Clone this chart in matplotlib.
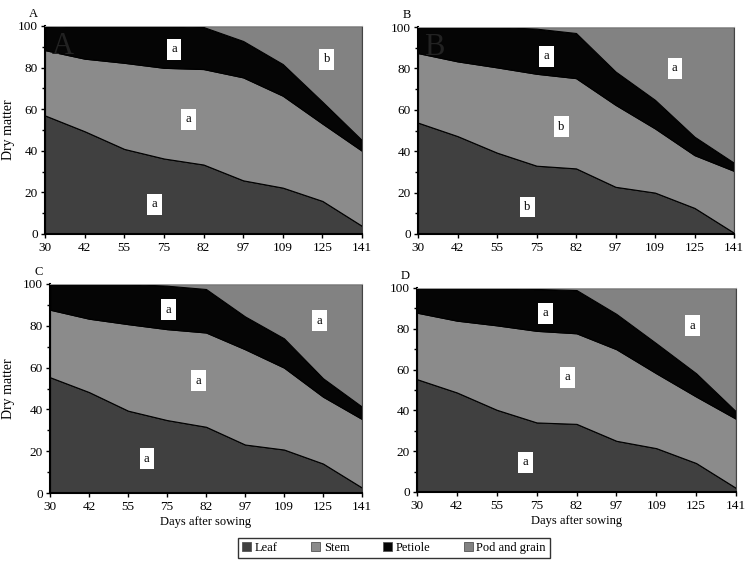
import numpy as np
import matplotlib
matplotlib.use("Agg")
import matplotlib.pyplot as plt
from matplotlib.patches import Patch
from matplotlib.ticker import MultipleLocator

plt.rcParams['font.family'] = ['Liberation Serif', 'DejaVu Serif']

days = ['30', '42', '55', '75', '82', '97', '109', '125', '141']
parts = ['Leaf', 'Stem', 'Petiole', 'Pod and grain']

# per-panel dry matter shares (%), one list per plant part
leaf_A = [57, 49.4, 40.9, 36.3, 33.4, 25.8, 22.3, 15.9, 3.9]
stem_A = [31.4, 34.9, 41.4, 43.6, 45.9, 49.5, 44.2, 37.2, 36.1]
petiole_A = [11.1, 15.7, 17.7, 20.1, 20.2, 17.5, 15.2, 10.5, 5.1]

leaf_B = [53.8, 47.3, 39.3, 33.0, 31.7, 22.8, 20.0, 12.6, 0.6]
stem_B = [33.6, 36.1, 41.2, 44.4, 43.6, 39.6, 31.0, 25.5, 29.9]
petiole_B = [12.6, 16.6, 19.5, 21.8, 21.8, 16.1, 13.8, 8.9, 3.9]

leaf_C = [55.4, 48.3, 39.4, 34.9, 31.7, 23.2, 20.8, 14.1, 2.6]
stem_C = [32.3, 35.1, 41.4, 43.5, 45.1, 45.6, 39.2, 32.0, 32.8]
petiole_C = [12.3, 16.6, 19.2, 20.8, 20.8, 15.7, 14.0, 8.8, 5.9]

leaf_D = [55.3, 48.8, 40.3, 34.1, 33.4, 25.1, 21.5, 14.2, 2.0]
stem_D = [32.6, 35.2, 41.4, 44.9, 44.4, 44.9, 36.7, 32.6, 33.9]
petiole_D = [12.1, 16.0, 18.3, 20.5, 21.2, 17.3, 14.7, 11.4, 3.6]

# significance letters: (x position in category units, y, letter)
letters_A = [(2.76, 14.3, 'a'), (3.62, 55.2, 'a'), (3.26, 88.8, 'a'), (7.11, 84, 'b')]
letters_B = [(2.77, 13, 'b'), (3.63, 51.9, 'b'), (3.25, 85.8, 'a'), (6.5, 80, 'a')]
letters_C = [(2.48, 16.5, 'a'), (3.81, 53.8, 'a'), (3.04, 87.7, 'a'), (6.91, 82.4, 'a')]
letters_D = [(2.72, 14.5, 'a'), (3.77, 56.3, 'a'), (3.22, 87.6, 'a'), (6.91, 81.6, 'a')]

colors = ['#404040', '#8b8b8b', '#050505', '#828282']

W, H = 747, 563
fig = plt.figure(figsize=(W / 100, H / 100), dpi=100)


def px_axes(l, t, r, b):
    return fig.add_axes([l / W, 1 - b / H, (r - l) / W, (b - t) / H])


panels = [
    ('A', (45, 26, 362, 234), leaf_A, stem_A, petiole_A, letters_A, True, False),
    ('B', (418, 27, 734, 234), leaf_B, stem_B, petiole_B, letters_B, False, False),
    ('C', (50, 284, 362, 493), leaf_C, stem_C, petiole_C, letters_C, True, True),
    ('D', (417, 288, 736, 492), leaf_D, stem_D, petiole_D, letters_D, False, True),
]

x = np.arange(len(days))
for name, box, leaf, stem, pet, letters, ylab, xlab in panels:
    ax = px_axes(*box)
    leaf = np.array(leaf)
    stem = np.array(stem)
    pet = np.array(pet)
    pod = 100 - leaf - stem - pet
    ax.stackplot(x, leaf, stem, pet, pod, colors=colors,
                 edgecolor='black', linewidth=0.8)
    ax.set_xlim(0, len(days) - 1)
    ax.set_ylim(0, 100)
    ax.set_xticks(x)
    ax.set_xticklabels(days)
    ax.yaxis.set_major_locator(MultipleLocator(20))
    ax.yaxis.set_minor_locator(MultipleLocator(10))
    ax.tick_params(axis='both', labelsize=9.5, direction='out', length=3, width=1, pad=2)
    ax.tick_params(axis='x', pad=3)
    ax.tick_params(axis='y', which='minor', length=2, width=1)
    ax.spines['top'].set_color('#bbbbbb')
    ax.spines['top'].set_linewidth(0.6)
    ax.spines['right'].set_color('#444444')
    ax.spines['right'].set_linewidth(0.8)
    for s in ['left', 'bottom']:
        ax.spines[s].set_linewidth(1.5)
    for lx, ly, txt in letters:
        ax.text(lx, ly, txt, fontsize=9, ha='center', va='center',
                bbox=dict(boxstyle='square,pad=0.35', fc='white', ec='none'))
    ax.text(-0.05, 1.03, name, transform=ax.transAxes, fontsize=9,
            ha='left', va='bottom')
    if name in ('A', 'B'):
        ax.text(0.02, 0.97, name, transform=ax.transAxes, fontsize=22,
                color='#222222', ha='left', va='top')
    if ylab:
        cy = 1 - (box[1] + box[3]) / 2 / H
        fig.text(9 / W, cy, 'Dry matter', rotation=90, fontsize=10,
                 ha='center', va='center')
    if xlab:
        ax.set_xlabel('Days after sowing', fontsize=9, labelpad=2)

handles = [Patch(facecolor=c, edgecolor='#555555', linewidth=0.6) for c in colors]
fig.legend(handles, parts, loc='center', bbox_to_anchor=(394 / W, 1 - 548 / H),
           ncol=4, fontsize=9, frameon=True, fancybox=False, edgecolor='black',
           handlelength=0.7, handleheight=0.7, handletextpad=0.3,
           columnspacing=2.7, borderpad=0.3)

fig.savefig('out.png', dpi=100)
